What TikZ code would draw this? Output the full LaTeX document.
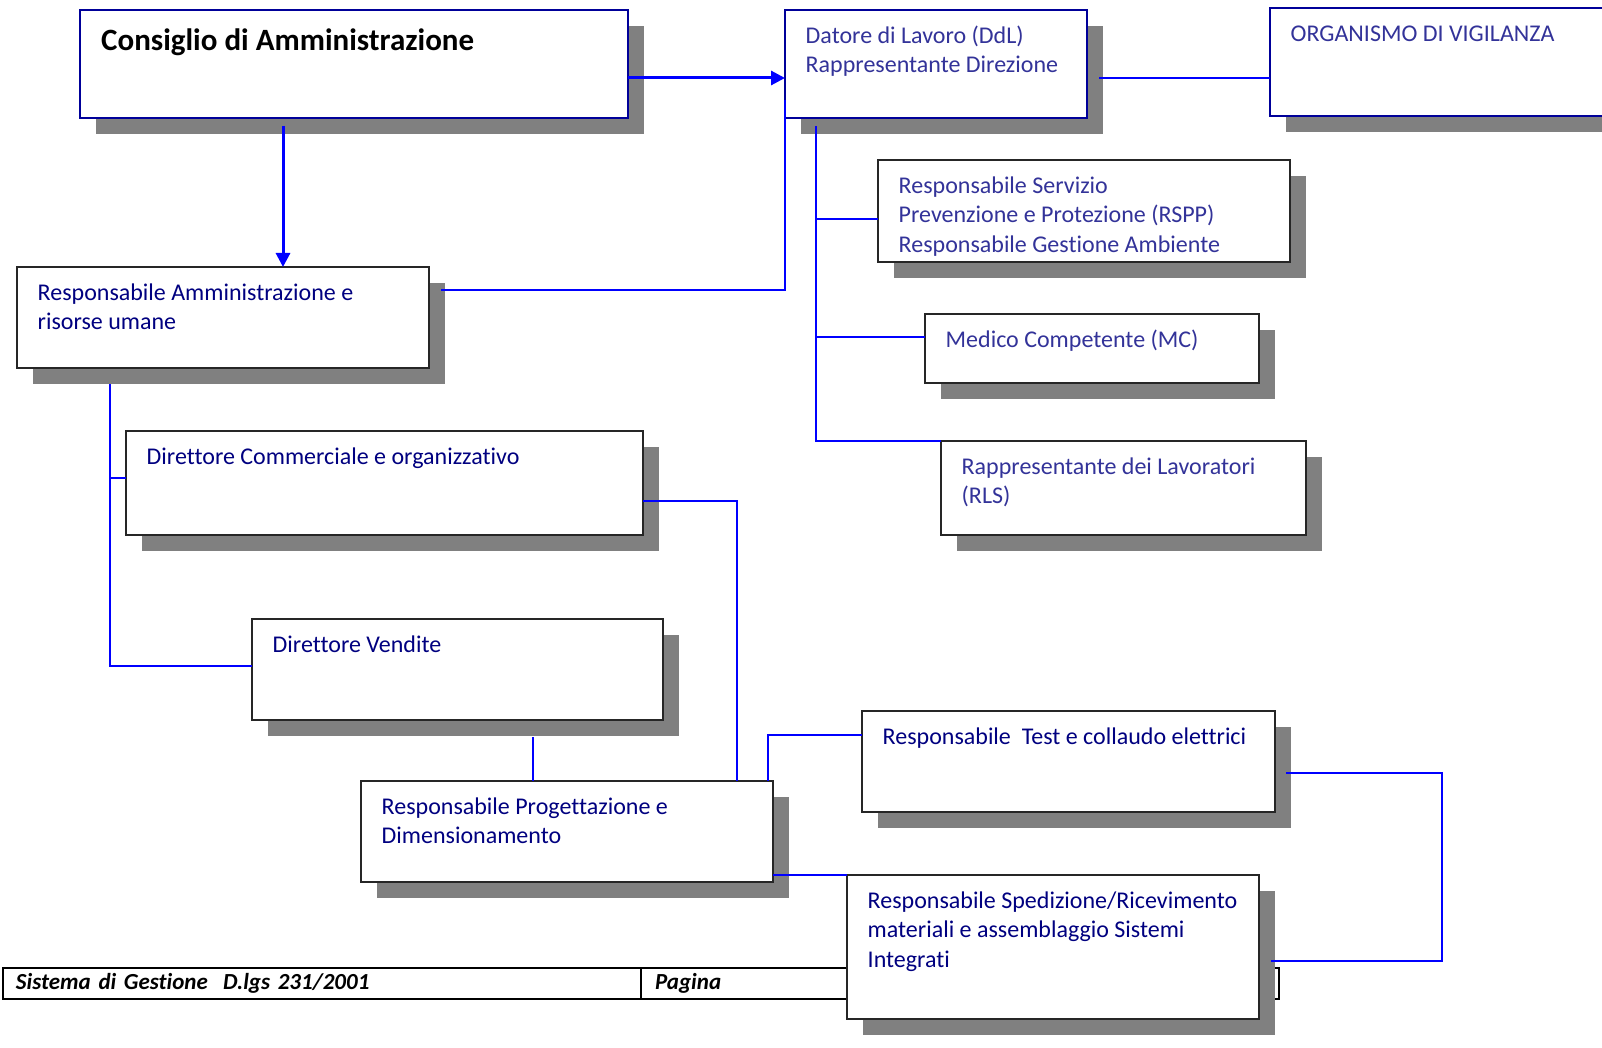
\documentclass[tikz,border=0pt]{standalone}
\usepackage{fontspec}
\setmainfont[Ligatures=NoCommon]{Carlito}
\usetikzlibrary{arrows.meta,positioning,shadows}
\definecolor{bluscuro}{RGB}{0,0,128}
\definecolor{blumedio}{RGB}{51,51,153}
\definecolor{bordoblu}{RGB}{0,0,153}
\tikzset{
	%Define standard arrow tip
	>={Triangle[length=14pt,width=14pt]},
	%Define style for boxes
	ruolo/.style={
		rectangle,
		draw=black!85, line width=1.2pt,
		fill=white,
		anchor=north west,
		inner sep=0pt, outer sep=0pt,
		drop shadow={shadow xshift=16pt, shadow yshift=-16pt, fill=gray, opacity=1}},
	vertice/.style={ruolo, draw=bordoblu},
	% Define style for the texts in the boxes (each text starts with a strut)
	testo/.style={
		anchor=north west,
		inner sep=0pt,
		align=left,
		text=bluscuro,
		font=\fontsize{24}{29.5}\selectfont,
		xshift=20.5pt, yshift=-12.35pt},
	testo dx/.style={testo, text=blumedio},
	titolo/.style={
		anchor=base west,
		inner sep=0pt,
		font=\fontsize{31}{36}\selectfont\bfseries,
		xshift=21pt, yshift=-40.5pt},
	% Define style for the footer
	piede/.style={
		draw=black, line width=2.5pt,
		anchor=north west,
		outer sep=0pt, inner ysep=0pt, inner xsep=13pt,
		minimum height=31, text width=612,
		align=left,
		font=\fontsize{23}{26}\selectfont\bfseries\itshape},
	% Define arrow style
	freccia/.style={->, blue, line width=3pt},
	linea/.style={blue, line width=2pt}
}

\begin{document}
\begin{tikzpicture}[x=1pt, y=-1pt]
	
	\clip (0,0) rectangle (1602,1048);
	
	% footer of the page
	\node[piede] (sgs) at (3,968) {Sistema di Gestione\ \ D.lgs 231/2001};
	\node[piede, inner xsep=14pt, text width=610] (pag) at (sgs.north east) {Pagina};
	
	\node[vertice, minimum width=548, minimum height=108] (cda) at (80,10) {};
	\node[vertice, minimum width=302, minimum height=108] (ddl) at (785,10) {};
	\node[vertice, minimum width=400, minimum height=108] (odv) at (1270,8) {};
	\node[ruolo, minimum width=412, minimum height=102] (rspp) at (878,160) {};
	\node[ruolo, minimum width=334, minimum height=69] (mc) at (925,314) {};
	\node[ruolo, minimum width=365, minimum height=94] (rls) at (941,441) {};
	\node[ruolo, minimum width=412, minimum height=101] (ram) at (17,267) {};
	\node[ruolo, minimum width=517, minimum height=104] (dco) at (126,431) {};
	\node[ruolo, minimum width=411, minimum height=101] (dve) at (252,619) {};
	\node[ruolo, minimum width=412, minimum height=101] (rpd) at (361,781) {};
	\node[ruolo, minimum width=413, minimum height=101] (rte) at (862,711) {};
	\node[ruolo, minimum width=412, minimum height=144] (rsr) at (847,875) {};
	
	\node[titolo] (tcda) at (cda.north west) {Consiglio di Amministrazione};
	\node[testo dx] (tddl) at (ddl.north west) {\strut Datore di Lavoro (DdL)\\Rappresentante Direzione};
	\node[testo dx] (todv) at (odv.north west) {\strut ORGANISMO DI VIGILANZA};
	\node[testo dx] (trspp) at (rspp.north west) {\strut Responsabile Servizio\\Prevenzione e Protezione (RSPP)\\Responsabile Gestione Ambiente};
	\node[testo dx] (tmc) at (mc.north west) {\strut Medico Competente (MC)};
	\node[testo dx] (trls) at (rls.north west) {\strut Rappresentante dei Lavoratori\\(RLS)};
	\node[testo] (tram) at (ram.north west) {\strut Responsabile Amministrazione e\\risorse umane};
	\node[testo] (tdco) at (dco.north west) {\strut Direttore Commerciale e organizzativo};
	\node[testo] (tdve) at (dve.north west) {\strut Direttore Vendite};
	\node[testo] (trpd) at (rpd.north west) {\strut Responsabile Progettazione e\\Dimensionamento};
	\node[testo] (trte) at (rte.north west) {\strut Responsabile\ \ Test e collaudo elettrici};
	\node[testo] (trsr) at (rsr.north west) {\strut Responsabile Spedizione/Ricevimento\\materiali e assemblaggio Sistemi\\Integrati};
	
	% connectors
	\coordinate (cdagiu) at ([xshift=-71pt,yshift=-8pt]cda.south);
	\coordinate (ddldx) at ([xshift=12pt,yshift=-14pt]ddl.east);
	\coordinate (tronco) at ([xshift=31pt,yshift=-8pt]ddl.south west);
	\coordinate (ramgiu) at ([xshift=93pt,yshift=-16pt]ram.south west);
	\coordinate (dvegiu) at ([xshift=75.5pt,yshift=-17pt]dve.south);
	
	\draw[freccia] ([yshift=-14pt]cda.east) -- ([yshift=-14pt]ddl.west);
	\draw[freccia] (cdagiu) -- (cdagiu |- ram.north);
	\draw[linea] (ddldx) -- (ddldx -| odv.west);
	\draw[linea] ([xshift=12pt,yshift=27.5pt]ram.east) -| ([yshift=18pt]ddl.south west);
	\draw[linea] ([yshift=-8pt]rspp.west) -| (tronco);
	\draw[linea] ([yshift=11.5pt]mc.west) -| (tronco);
	\draw[linea] (rls.north west) -| (tronco);
	\draw[linea] ([yshift=5pt]dco.west) -| (ramgiu);
	\draw[linea] ([yshift=3.5pt]dve.west) -| (ramgiu);
	\draw[linea] ([yshift=-18pt]dco.east) -| ([xshift=170pt]rpd.north);
	\draw[linea] (dvegiu) -- (dvegiu |- rpd.north);
	\draw[linea] ([xshift=-5pt]rpd.north east) |- ([yshift=26.5pt]rte.west);
	\draw[linea] (rsr.north west) -- (rsr.north west -| rpd.east);
	\draw[linea] ([xshift=11pt,yshift=-11.5pt]rte.east) -- ++(156,0) |- ([xshift=12pt,yshift=-14pt]rsr.east);
	
\end{tikzpicture}
\end{document}
